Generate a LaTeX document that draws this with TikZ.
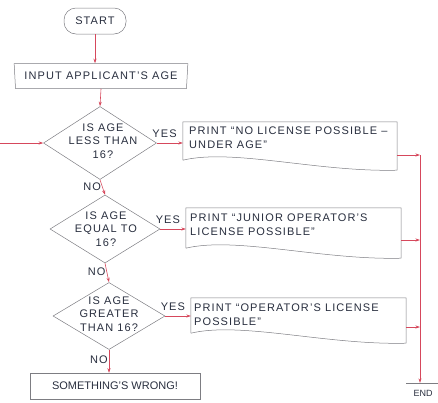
\documentclass[tikz,border=0pt]{standalone}
\usepackage{fontspec}
\setmainfont{Liberation Sans}
\newfontfamily\spacedfont[LetterSpace=10,Ligatures=TeX]{Liberation Sans}
\usetikzlibrary{shapes.geometric,arrows.meta}
\definecolor{conn}{RGB}{214,72,92}
\definecolor{ink}{RGB}{40,46,62}
\definecolor{edge}{RGB}{125,125,130}
\newcommand{\docbox}[1]{%
  \draw[shp] ([yshift=10pt]#1.south west) -- (#1.north west) -- (#1.north east) -- (#1.south east)
    .. controls +(-80,2) and +(50,-12) .. ([yshift=10pt]#1.south west);}
\begin{document}
\begin{tikzpicture}[x=1pt,y=-1pt,
  every node/.style={font=\spacedfont\fontsize{11}{13.5}\selectfont, text=ink},
  shp/.style={draw=edge, line width=0.5pt},
  dia/.style={shp, diamond, inner sep=0pt},
  boxarea/.style={draw=none, inner sep=0pt},
  conn/.style={draw=conn, line width=0.6pt, -{Stealth[length=4.5pt,width=3pt]}},
  lbl/.style={inner sep=1pt}]
\useasboundingbox (0,0) rectangle (438,402);

% start and input
\node[shp, rounded corners=12pt, minimum width=62pt, minimum height=26pt] (start) at (95,21) {START};
\node[shp, trapezium, trapezium angle=85, trapezium stretches=true, shape border rotate=180,
      minimum width=174pt, minimum height=25pt, inner xsep=2pt] (input) at (101,76) {INPUT APPLICANT'S AGE};

% decisions
\node[dia, minimum width=113pt, minimum height=73pt] (d1) at (100,143) {};
\node[align=center, inner sep=0pt] (t1) at (103,141) {IS AGE\\LESS THAN\\16?};
\node[dia, minimum width=110pt, minimum height=68pt] (d2) at (105,229) {};
\node[align=center, inner sep=0pt] (t2) at (106,229) {IS AGE\\EQUAL TO\\16?};
\node[dia, minimum width=112pt, minimum height=67pt] (d3) at (109,316) {};
\node[align=center, inner sep=0pt] (t3) at (109,314) {IS AGE\\GREATER\\THAN 16?};

% print boxes
\node[boxarea, minimum width=214pt, minimum height=48pt] (b1) at (290,146) {};
\docbox{b1}
\node[anchor=north west, align=left, inner sep=0pt] (bt1) at (189,127) {PRINT “NO LICENSE POSSIBLE –\\UNDER AGE”};
\node[boxarea, minimum width=215pt, minimum height=50pt] (b2) at (293.5,233) {};
\docbox{b2}
\node[anchor=north west, align=left, inner sep=0pt] (bt2) at (190,214) {PRINT “JUNIOR OPERATOR'S\\LICENSE POSSIBLE”};
\node[boxarea, minimum width=215pt, minimum height=45pt] (b3) at (298.5,320.5) {};
\docbox{b3}
\node[anchor=north west, align=left, inner sep=0pt] (bt3) at (194,304) {PRINT “OPERATOR'S LICENSE\\POSSIBLE”};

% wrong box and end
\node[shp, minimum width=170pt, minimum height=26pt, font=\rmfamily\fontsize{11}{13.5}\selectfont] (wrong) at (115,386) {SOMETHING'S WRONG!};
\node[inner sep=0pt, minimum width=33pt, minimum height=20pt, font=\rmfamily\fontsize{9}{11}\selectfont] (end) at (423,393) {END};
\draw[shp] (end.north west) -- (end.north east);

% connectors
\coordinate (in) at (0,143);
\coordinate (j1) at (420,155);
\coordinate (j2) at (420,240);
\coordinate (j3) at (420,327);
\draw[conn] (start) -- (start |- input.north);
\draw[conn] (input.south) -- (d1.north);
\draw[conn] (in) -- (d1.west);
\draw[conn] (d1.east) -- node[lbl, above, pos=0.3, yshift=4pt] {YES} (d1.east -| b1.west);
\draw[conn] (d2.east) -- node[lbl, above, pos=0.3, yshift=4pt] {YES} (d2.east -| b2.west);
\draw[conn] (d3.east) -- node[lbl, above, pos=0.3, yshift=4pt] {YES} (d3.east -| b3.west);
\draw[conn] (d1.south) -- node[lbl, left, pos=0.45] {NO} (d2.north);
\draw[conn] (d2.south) -- node[lbl, left, pos=0.45] {NO} (d3.north);
\draw[conn] (d3.south) -- node[lbl, left, pos=0.45] {NO} (d3.south |- wrong.north);
\draw[conn] (b1.east |- j1) -- (j1);
\draw[conn] (b2.east |- j2) -- (j2);
\draw[conn] (b3.east |- j3) -- (j3);
\draw[conn] (j1) -- (j1 |- end.north);
\end{tikzpicture}
\end{document}
